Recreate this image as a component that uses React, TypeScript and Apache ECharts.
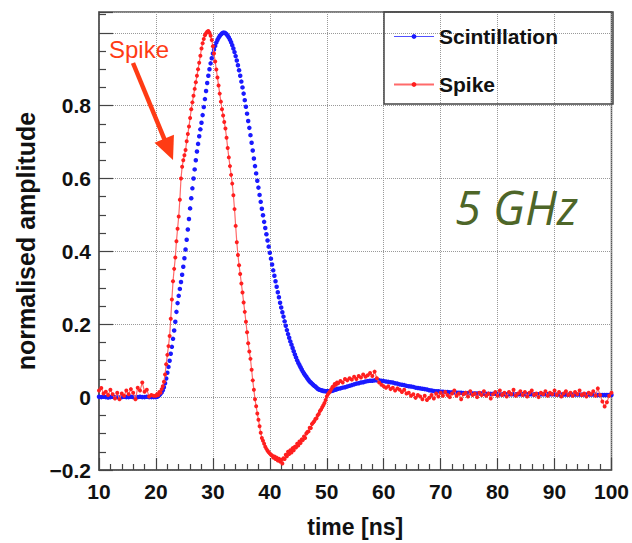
import React, { useEffect, useRef } from "react";
import * as echarts from "echarts";

// ---- Data ----
const SERIES_NAMES = ["Scintillation", "Spike"];
const X_MIN = 10;
const X_MAX = 100;
const X_STEP = 10;
const Y_MIN = -0.2;
const Y_MAX = 1.057;
const Y_STEP = 0.2;

// sampling of each segment: [start time (ns), step (ns)]
const BASE_SAMPLING = [10.0, 0.4]; // 10.0 .. 19.6
const PULSE_SAMPLING = [20.0, 0.2]; // 20.0 .. 52.0
const TAIL_SAMPLING = [52.4, 0.4]; // 52.4 .. 100.0

const scintBase = [
  0.001, 0.0, 0.001, 0.0, -0.001, 0.0, 0.001, 0.0, 0.0, -0.001,
  0.0, 0.001, 0.0, 0.0, 0.001, 0.0, -0.001, 0.0, 0.001, 0.0,
  0.0, 0.001, 0.0, 0.0, 0.0,
];
const scintPulse = [
  0.000, 0.001, 0.003, 0.006, 0.009, 0.013, 0.019, 0.027, 0.038, 0.051,
  0.067, 0.083, 0.100, 0.119, 0.138, 0.160, 0.183, 0.207, 0.234, 0.258,
  0.278, 0.297, 0.316, 0.336, 0.358, 0.381, 0.405, 0.432, 0.460, 0.489,
  0.518, 0.546, 0.573, 0.600, 0.625, 0.650, 0.674, 0.695, 0.716, 0.735,
  0.753, 0.774, 0.796, 0.818, 0.840, 0.862, 0.882, 0.900, 0.916, 0.930,
  0.943, 0.954, 0.964, 0.973, 0.980, 0.986, 0.991, 0.995, 0.998, 1.000,
  1.000, 0.999, 0.996, 0.992, 0.987, 0.981, 0.974, 0.966, 0.957, 0.947,
  0.936, 0.924, 0.911, 0.897, 0.882, 0.866, 0.850, 0.833, 0.815, 0.797,
  0.778, 0.758, 0.739, 0.719, 0.698, 0.677, 0.655, 0.634, 0.614, 0.594,
  0.575, 0.555, 0.536, 0.517, 0.499, 0.481, 0.464, 0.447, 0.430, 0.413,
  0.396, 0.380, 0.364, 0.348, 0.333, 0.318, 0.303, 0.288, 0.274, 0.259,
  0.246, 0.233, 0.221, 0.208, 0.196, 0.184, 0.173, 0.163, 0.153, 0.144,
  0.135, 0.126, 0.117, 0.109, 0.101, 0.094, 0.088, 0.082, 0.076, 0.070,
  0.065, 0.060, 0.056, 0.051, 0.047, 0.043, 0.040, 0.037, 0.034, 0.031,
  0.029, 0.026, 0.023, 0.021, 0.020, 0.019, 0.018, 0.017, 0.017, 0.016,
  0.016, 0.016, 0.016, 0.017, 0.017, 0.018, 0.019, 0.020, 0.021, 0.022,
  0.023,
];
const scintTail = [
  0.024, 0.026, 0.027, 0.029, 0.031, 0.033, 0.035, 0.037, 0.038, 0.040,
  0.041, 0.043, 0.044, 0.045, 0.045, 0.046, 0.046, 0.046, 0.045, 0.044,
  0.043, 0.042, 0.041, 0.040, 0.038, 0.037, 0.035, 0.034, 0.033, 0.031,
  0.030, 0.029, 0.028, 0.026, 0.025, 0.024, 0.023, 0.022, 0.021, 0.019,
  0.018, 0.017, 0.016, 0.016, 0.015, 0.015, 0.014, 0.014, 0.013, 0.013,
  0.013, 0.012, 0.012, 0.012, 0.011, 0.011, 0.011, 0.011, 0.010, 0.010,
  0.010, 0.010, 0.010, 0.009, 0.009, 0.009, 0.009, 0.009, 0.009, 0.009,
  0.008, 0.008, 0.008, 0.008, 0.008, 0.008, 0.008, 0.008, 0.008, 0.008,
  0.008, 0.008, 0.008, 0.008, 0.008, 0.008, 0.008, 0.008, 0.008, 0.008,
  0.008, 0.008, 0.008, 0.008, 0.008, 0.007, 0.007, 0.007, 0.007, 0.007,
  0.007, 0.007, 0.007, 0.007, 0.007, 0.007, 0.007, 0.007, 0.007, 0.007,
  0.007, 0.007, 0.007, 0.006, 0.006, 0.006, 0.006, 0.006, 0.006, 0.006,
];

const spikeBase = [
  0.018, 0.025, 0.010, 0.015, 0.006, 0.020, 0.008, -0.004, 0.012, -0.006,
  0.010, 0.004, 0.018, 0.008, 0.022, 0.012, -0.006, 0.026, 0.018, 0.040,
  0.015, 0.020, 0.002, 0.006, 0.004,
];
const spikePulse = [
  0.004, 0.008, 0.006, 0.014, 0.012, 0.022, 0.030, 0.042, 0.062, 0.090,
  0.116, 0.140, 0.168, 0.215, 0.268, 0.318, 0.352, 0.383, 0.428, 0.462,
  0.496, 0.542, 0.600, 0.632, 0.650, 0.664, 0.678, 0.702, 0.722, 0.743,
  0.766, 0.790, 0.809, 0.827, 0.846, 0.864, 0.882, 0.900, 0.918, 0.937,
  0.957, 0.971, 0.983, 0.993, 0.999, 1.003, 1.005, 1.000, 0.992, 0.980,
  0.963, 0.943, 0.921, 0.899, 0.877, 0.855, 0.833, 0.811, 0.790, 0.773,
  0.755, 0.737, 0.712, 0.684, 0.658, 0.634, 0.610, 0.586, 0.554, 0.516,
  0.470, 0.425, 0.390, 0.362, 0.338, 0.312, 0.287, 0.260, 0.234, 0.207,
  0.178, 0.148, 0.125, 0.105, 0.075, 0.046, 0.020, -0.006, -0.025, -0.045,
  -0.062, -0.080, -0.098, -0.112, -0.120, -0.128, -0.136, -0.142, -0.147, -0.151,
  -0.155, -0.158, -0.160, -0.166, -0.163, -0.170, -0.166, -0.174, -0.169, -0.177,
  -0.172, -0.182, -0.168, -0.170, -0.158, -0.162, -0.150, -0.156, -0.146, -0.152,
  -0.140, -0.146, -0.136, -0.138, -0.128, -0.133, -0.122, -0.126, -0.116, -0.118,
  -0.108, -0.112, -0.100, -0.096, -0.094, -0.084, -0.085, -0.074, -0.070, -0.066,
  -0.060, -0.058, -0.050, -0.046, -0.038, -0.034, -0.028, -0.022, -0.016, -0.008,
  0.002, 0.008, 0.012, 0.016, 0.022, 0.028, 0.030, 0.036, 0.034, 0.040,
  0.038,
];
const spikeTail = [
  0.044, 0.040, 0.050, 0.046, 0.052, 0.048, 0.056, 0.050, 0.058, 0.054,
  0.062, 0.056, 0.060, 0.066, 0.058, 0.070, 0.052, 0.040, 0.034, 0.030,
  0.026, 0.030, 0.022, 0.026, 0.018, 0.024, 0.020, 0.014, 0.020, 0.010,
  0.012, 0.004, 0.008, -0.002, 0.006, 0.002, -0.006, 0.004, -0.008, -0.002,
  0.006, -0.004, 0.010, 0.002, 0.012, 0.004, 0.014, 0.006, 0.000, 0.010,
  0.018, 0.004, 0.010, -0.006, 0.008, 0.012, 0.002, 0.016, 0.006, 0.010,
  0.000, 0.012, 0.006, 0.016, 0.004, 0.010, -0.004, 0.008, 0.014, 0.004,
  0.018, 0.006, 0.012, 0.002, 0.014, 0.008, 0.020, 0.004, 0.010, 0.016,
  0.006, 0.014, 0.002, 0.012, 0.018, 0.006, 0.010, 0.000, 0.012, 0.008,
  0.016, 0.004, 0.012, 0.008, 0.018, 0.006, 0.014, 0.002, 0.010, 0.016,
  0.006, 0.012, 0.004, 0.014, 0.008, 0.018, 0.006, 0.010, 0.002, 0.012,
  0.008, 0.016, 0.004, 0.024, 0.006, -0.012, -0.026, -0.014, 0.004, 0.012,
];

// ---- helpers ----
function segment(values: number[], sampling: number[]): number[][] {
  const [start, step] = sampling;
  return values.map((v, i) => [Number((start + i * step).toFixed(2)), v]);
}
function buildSeries(base: number[], pulse: number[], tail: number[]) {
  return [
    ...segment(base, BASE_SAMPLING),
    ...segment(pulse, PULSE_SAMPLING),
    ...segment(tail, TAIL_SAMPLING),
  ];
}

const FONT = "'Liberation Sans', Arial, sans-serif";
const BLUE = "#1a1aff";
const RED = "#ff1f1f";
const RED_LINE = "#ff6a6a";
const NOTE_RED = "#ff3b14";
const GHZ_GREEN = "#4e6628";

function fmtY(v: number): string {
  if (v > 0.95) return "";
  const r = Number(v.toFixed(1));
  if (r === 0) return "0";
  return r < 0 ? "\u2212" + String(Math.abs(r)) : String(r);
}

export default function App() {
  const ref = useRef<HTMLDivElement>(null);

  useEffect(() => {
    if (!ref.current) return;
    const chart = echarts.init(ref.current, null, { renderer: "svg" });

    const scintData = buildSeries(scintBase, scintPulse, scintTail);
    const spikeData = buildSeries(spikeBase, spikePulse, spikeTail);

    // arrow geometry (annotation)
    const ax0 = 133, ay0 = 63, ax1 = 173, ay1 = 160;
    const len = Math.hypot(ax1 - ax0, ay1 - ay0);
    const ux = (ax1 - ax0) / len, uy = (ay1 - ay0) / len;
    const headLen = 23, headHalf = 10.5;
    const bx = ax1 - headLen * ux, by = ay1 - headLen * uy;

    const option: any = {
      animation: false,
      backgroundColor: "#ffffff",
      grid: {
        left: 99,
        right: 19,
        top: 12,
        bottom: 69,
        show: true,
        borderColor: "#555",
        borderWidth: 1.5,
        backgroundColor: "transparent",
      },
      xAxis: {
        type: "value",
        min: X_MIN,
        max: X_MAX,
        interval: X_STEP,
        name: "time [ns]",
        nameLocation: "middle",
        nameGap: 45,
        nameTextStyle: { fontFamily: FONT, fontWeight: "bold", fontSize: 23, color: "#111" },
        axisLine: { show: true, onZero: false, lineStyle: { color: "#555", width: 1.5 } },
        axisTick: { show: true, inside: true, length: 12, lineStyle: { color: "#444", width: 1.2 } },
        minorTick: { show: true, splitNumber: 5, length: 6, lineStyle: { color: "#444", width: 1.2 } },
        axisLabel: { fontFamily: FONT, fontWeight: "bold", fontSize: 21, color: "#111", margin: 11 },
        splitLine: { show: true, lineStyle: { color: "#999", type: "dotted", width: 1 } },
      },
      yAxis: {
        type: "value",
        min: Y_MIN,
        max: Y_MAX,
        interval: Y_STEP,
        name: "normalised amplitude",
        nameLocation: "middle",
        nameGap: 46,
        nameRotate: 90,
        nameTextStyle: { fontFamily: FONT, fontWeight: "bold", fontSize: 25, color: "#111" },
        axisLine: { show: true, onZero: false, lineStyle: { color: "#555", width: 1.5 } },
        axisTick: { show: true, inside: true, length: 14, lineStyle: { color: "#444", width: 1.2 } },
        minorTick: { show: true, splitNumber: 4, length: 7, lineStyle: { color: "#444", width: 1.2 } },
        axisLabel: {
          fontFamily: FONT,
          fontWeight: "bold",
          fontSize: 21,
          color: "#111",
          margin: 8,
          showMaxLabel: false,
          formatter: fmtY,
        },
        splitLine: { show: true, lineStyle: { color: "#999", type: "dotted", width: 1 } },
      },
      legend: {
        show: true,
        orient: "vertical",
        left: 388,
        top: 21,
        itemWidth: 40,
        itemHeight: 6,
        itemGap: 27,
        selectedMode: false,
        textStyle: { fontFamily: FONT, fontWeight: "bold", fontSize: 21, color: "#111" },
        data: [
          { name: SERIES_NAMES[0], lineStyle: { opacity: 1, color: "#5050ff", width: 1.2 } },
          { name: SERIES_NAMES[1] },
        ],
      },
      graphic: [
        {
          type: "rect",
          shape: { x: 384, y: 12, width: 229, height: 92 },
          style: { fill: "none", stroke: "#444", lineWidth: 1.5 },
          silent: true,
          z: 5,
        },
        {
          type: "text",
          x: 109,
          y: 49,
          style: {
            text: "Spike",
            fill: NOTE_RED,
            font: `24px ${FONT}`,
            verticalAlign: "middle",
            align: "left",
          },
          silent: true,
          z: 10,
        },
        {
          type: "line",
          shape: { x1: ax0, y1: ay0, x2: bx + 2 * ux, y2: by + 2 * uy },
          style: { stroke: NOTE_RED, lineWidth: 4.5 },
          silent: true,
          z: 10,
        },
        {
          type: "polygon",
          shape: {
            points: [
              [ax1, ay1],
              [bx - headHalf * uy, by + headHalf * ux],
              [bx + headHalf * uy, by - headHalf * ux],
            ],
          },
          style: { fill: NOTE_RED },
          silent: true,
          z: 10,
        },
        {
          type: "text",
          x: 455,
          y: 207,
          style: {
            text: "5 GHz",
            fill: GHZ_GREEN,
            font: `italic 47px 'Open Sans', 'DejaVu Sans', sans-serif`,
            verticalAlign: "middle",
            align: "left",
          },
          silent: true,
          z: 10,
        },
      ],
      series: [
        {
          name: SERIES_NAMES[0],
          type: "line",
          data: scintData,
          symbol: "circle",
          symbolSize: 4.5,
          showSymbol: true,
          itemStyle: { color: BLUE },
          lineStyle: { color: BLUE, width: 1, opacity: 0 },
          silent: true,
          emphasis: { disabled: true },
          z: 2,
        },
        {
          name: SERIES_NAMES[1],
          type: "line",
          data: spikeData,
          symbol: "circle",
          symbolSize: 4,
          showSymbol: true,
          itemStyle: { color: RED },
          lineStyle: { color: RED_LINE, width: 1.2 },
          silent: true,
          emphasis: { disabled: true },
          z: 3,
        },
      ],
    };

    chart.setOption(option);
    return () => chart.dispose();
  }, []);

  return (
    <div
      ref={ref}
      style={{ position: "fixed", left: 0, top: 0, width: 632, height: 543, background: "#fff" }}
    />
  );
}
